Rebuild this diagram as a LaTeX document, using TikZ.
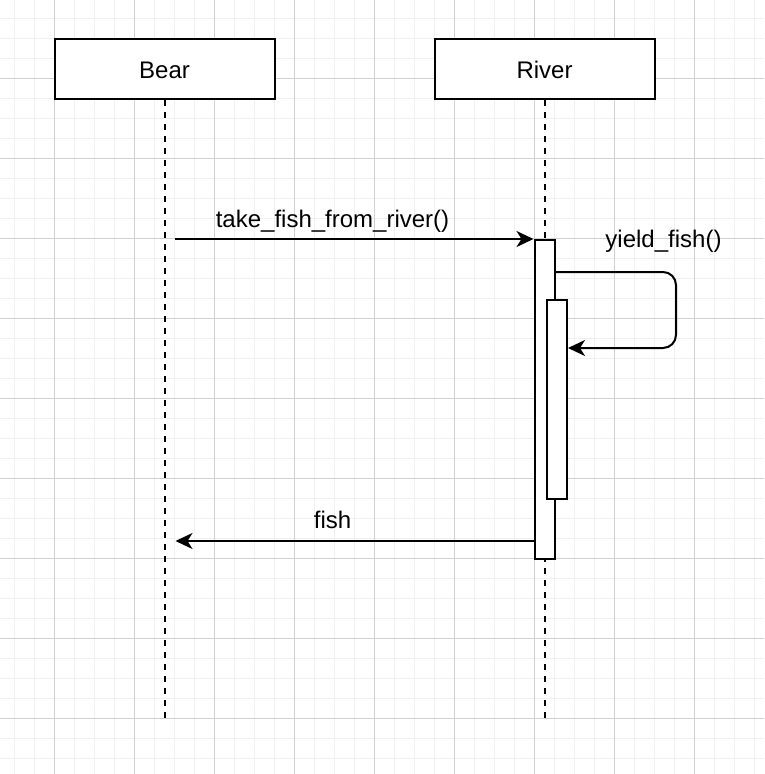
\documentclass[tikz,border=0pt]{standalone}
\usepackage{fontspec}
\setmainfont{Liberation Sans}
\usetikzlibrary{arrows.meta}
\definecolor{gridmajor}{HTML}{D0D0D0}
\definecolor{gridminor}{HTML}{F0F0F0}
\tikzset{
  actor/.style={draw=black, line width=2pt, fill=white, minimum width=220pt, minimum height=60pt, inner sep=0pt, font=\fontsize{24}{28}\selectfont},
  lifeline/.style={draw=black, line width=2pt, dash pattern=on 6pt off 6pt},
  activation/.style={draw=black, line width=2pt, fill=white, inner sep=0pt, minimum width=20pt},
  msg/.style={draw=black, line width=2pt, -{Stealth[length=17pt, width=16pt, inset=5pt]}},
  msglabel/.style={anchor=base, inner sep=0pt, font=\fontsize{24}{28}\selectfont},
}
\begin{document}
\begin{tikzpicture}[x=1pt, y=-1pt]
\useasboundingbox (0,0) rectangle (764,774);
\fill[white] (0,0) rectangle (764,774);
% grid
\foreach \x in {14,34,...,760} \draw[gridminor, line width=1pt] (\x,0) -- (\x,774);
\foreach \y in {18,38,...,770} \draw[gridminor, line width=1pt] (0,\y) -- (764,\y);
\foreach \x in {54,134,...,760} \draw[gridmajor, line width=1pt] (\x,0) -- (\x,774);
\foreach \y in {78,158,...,770} \draw[gridmajor, line width=1pt] (0,\y) -- (764,\y);
% actors
\node[actor] (bear) at (164.5,69) {};
\node[msglabel] (bearlabel) at (164.5,78) {Bear};
\node[actor] (river) at (544.5,69) {};
\node[msglabel] (riverlabel) at (544.5,78) {River};
% lifelines
\coordinate (bearend) at (164.5,718);
\coordinate (riverend) at (544.5,718);
\draw[lifeline] (bear.south) -- (bearend);
\draw[lifeline] (river.south) -- (riverend);
% activations
\node[activation, minimum height=319pt, anchor=north] (act1) at (544.5,239) {};
\node[activation, minimum height=199pt, anchor=north] (act2) at (557,299) {};
% messages
\coordinate (m1start) at (175,239);
\draw[msg] (m1start) -- (act1.north west);
\node[msglabel] (m1label) at (332.5,227) {take\_fish\_from\_river()};
\coordinate (selfstart) at (act1.east |- 0,272);
\coordinate (selfend) at (act2.east |- 0,348);
\draw[msg, rounded corners=13pt] (selfstart) -- (676,272) -- (676,348) -- (selfend);
\node[msglabel] (selflabel) at (663.5,247) {yield\_fish()};
\coordinate (m2start) at (act1.west |- 0,541);
\coordinate (m2end) at (175.5,541);
\draw[msg] (m2start) -- (m2end);
\node[msglabel] (m2label) at (332.5,528) {fish};
\end{tikzpicture}
\end{document}
